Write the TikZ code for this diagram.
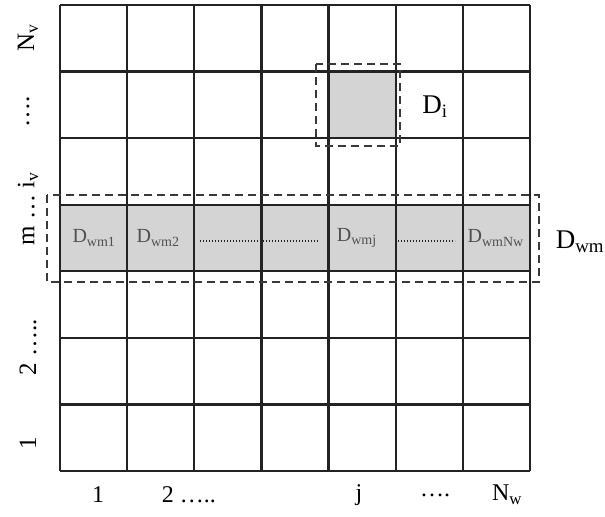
\documentclass[tikz,border=0pt]{standalone}
\usepackage{fontspec}
\setmainfont{Liberation Serif}
\definecolor{cellgray}{RGB}{212,212,212}
\definecolor{gridcol}{RGB}{35,35,35}
\definecolor{celltext}{RGB}{80,80,80}

\begin{document}
\begin{tikzpicture}[
    x=67.14pt, y=-66.57pt,
    gridline/.style={draw=gridcol, line width=2.2pt},
    region/.style={draw=gridcol!90, line width=2pt, dash pattern=on 8pt off 5pt},
    axislabel/.style={font=\fontsize{24}{26}\selectfont, inner sep=0pt},
    sidelabel/.style={font=\fontsize{25}{27}\selectfont, inner sep=0pt, rotate=90},
    celllabel/.style={font=\fontsize{20}{22}\selectfont, text=celltext, inner sep=0pt},
    dotline/.style={draw=gridcol, line width=1.2pt, dash pattern=on 1.2pt off 1.8pt}
]
    \useasboundingbox (-0.894,-0.075) rectangle (8.117,7.691);

    % Shaded cells
    \fill[cellgray] (0,3) rectangle (7,4);
    \fill[cellgray] (4,1) rectangle (5,2);

    % Grid
    \foreach \k in {0,...,7} {
        \draw[gridline] (\k,0) -- (\k,7);
        \draw[gridline] (0,\k) -- (7,\k);
    }

    % Dashed regions
    \draw[region] (3.81,0.886) rectangle (5.06,2.12);
    \draw[region] (-0.194,2.854) rectangle (7.134,4.161);

    % Region labels
    \node[axislabel, font=\fontsize{27}{29}\selectfont] (di) at (5.585,1.532) {D\textsubscript{i}};
    \node[axislabel, font=\fontsize{27}{29}\selectfont] (dwm) at (7.745,3.56) {D\textsubscript{wm}};

    % Cell labels
    \node[celllabel] (c1) at (0.506,3.5) {D\textsubscript{wm1}};
    \node[celllabel] (c2) at (1.46,3.5) {D\textsubscript{wm2}};
    \node[celllabel] (cj) at (4.42,3.5) {D\textsubscript{wmj}};
    \node[celllabel] (cn) at (6.49,3.5) {D\textsubscript{wmNw}};
    \coordinate (d1a) at (2.085,3.545);
    \coordinate (d1b) at (3.843,3.545);
    \coordinate (d2a) at (5.034,3.545);
    \coordinate (d2b) at (5.883,3.545);
    \draw[dotline] (d1a) -- (d1b);
    \draw[dotline] (d2a) -- (d2b);

    % Bottom labels
    \node[axislabel] (b1) at (0.566,7.36) {1};
    \node[axislabel] (b2) at (1.92,7.36) {2 …..};
    \node[axislabel] (bj) at (4.453,7.36) {j};
    \node[axislabel] (bdots) at (5.585,7.36) {….};
    \node[axislabel] (bn) at (6.658,7.36) {N\textsubscript{w}};

    % Side labels
    \node[sidelabel] (l1) at (-0.477,6.58) {1};
    \node[sidelabel] (l2) at (-0.477,5.137) {2 …..};
    \node[sidelabel] (lm) at (-0.477,3.064) {m … i\textsubscript{v}};
    \node[sidelabel] (ldots) at (-0.477,1.607) {….};
    \node[sidelabel] (ln) at (-0.477,0.496) {N\textsubscript{v}};
\end{tikzpicture}
\end{document}
